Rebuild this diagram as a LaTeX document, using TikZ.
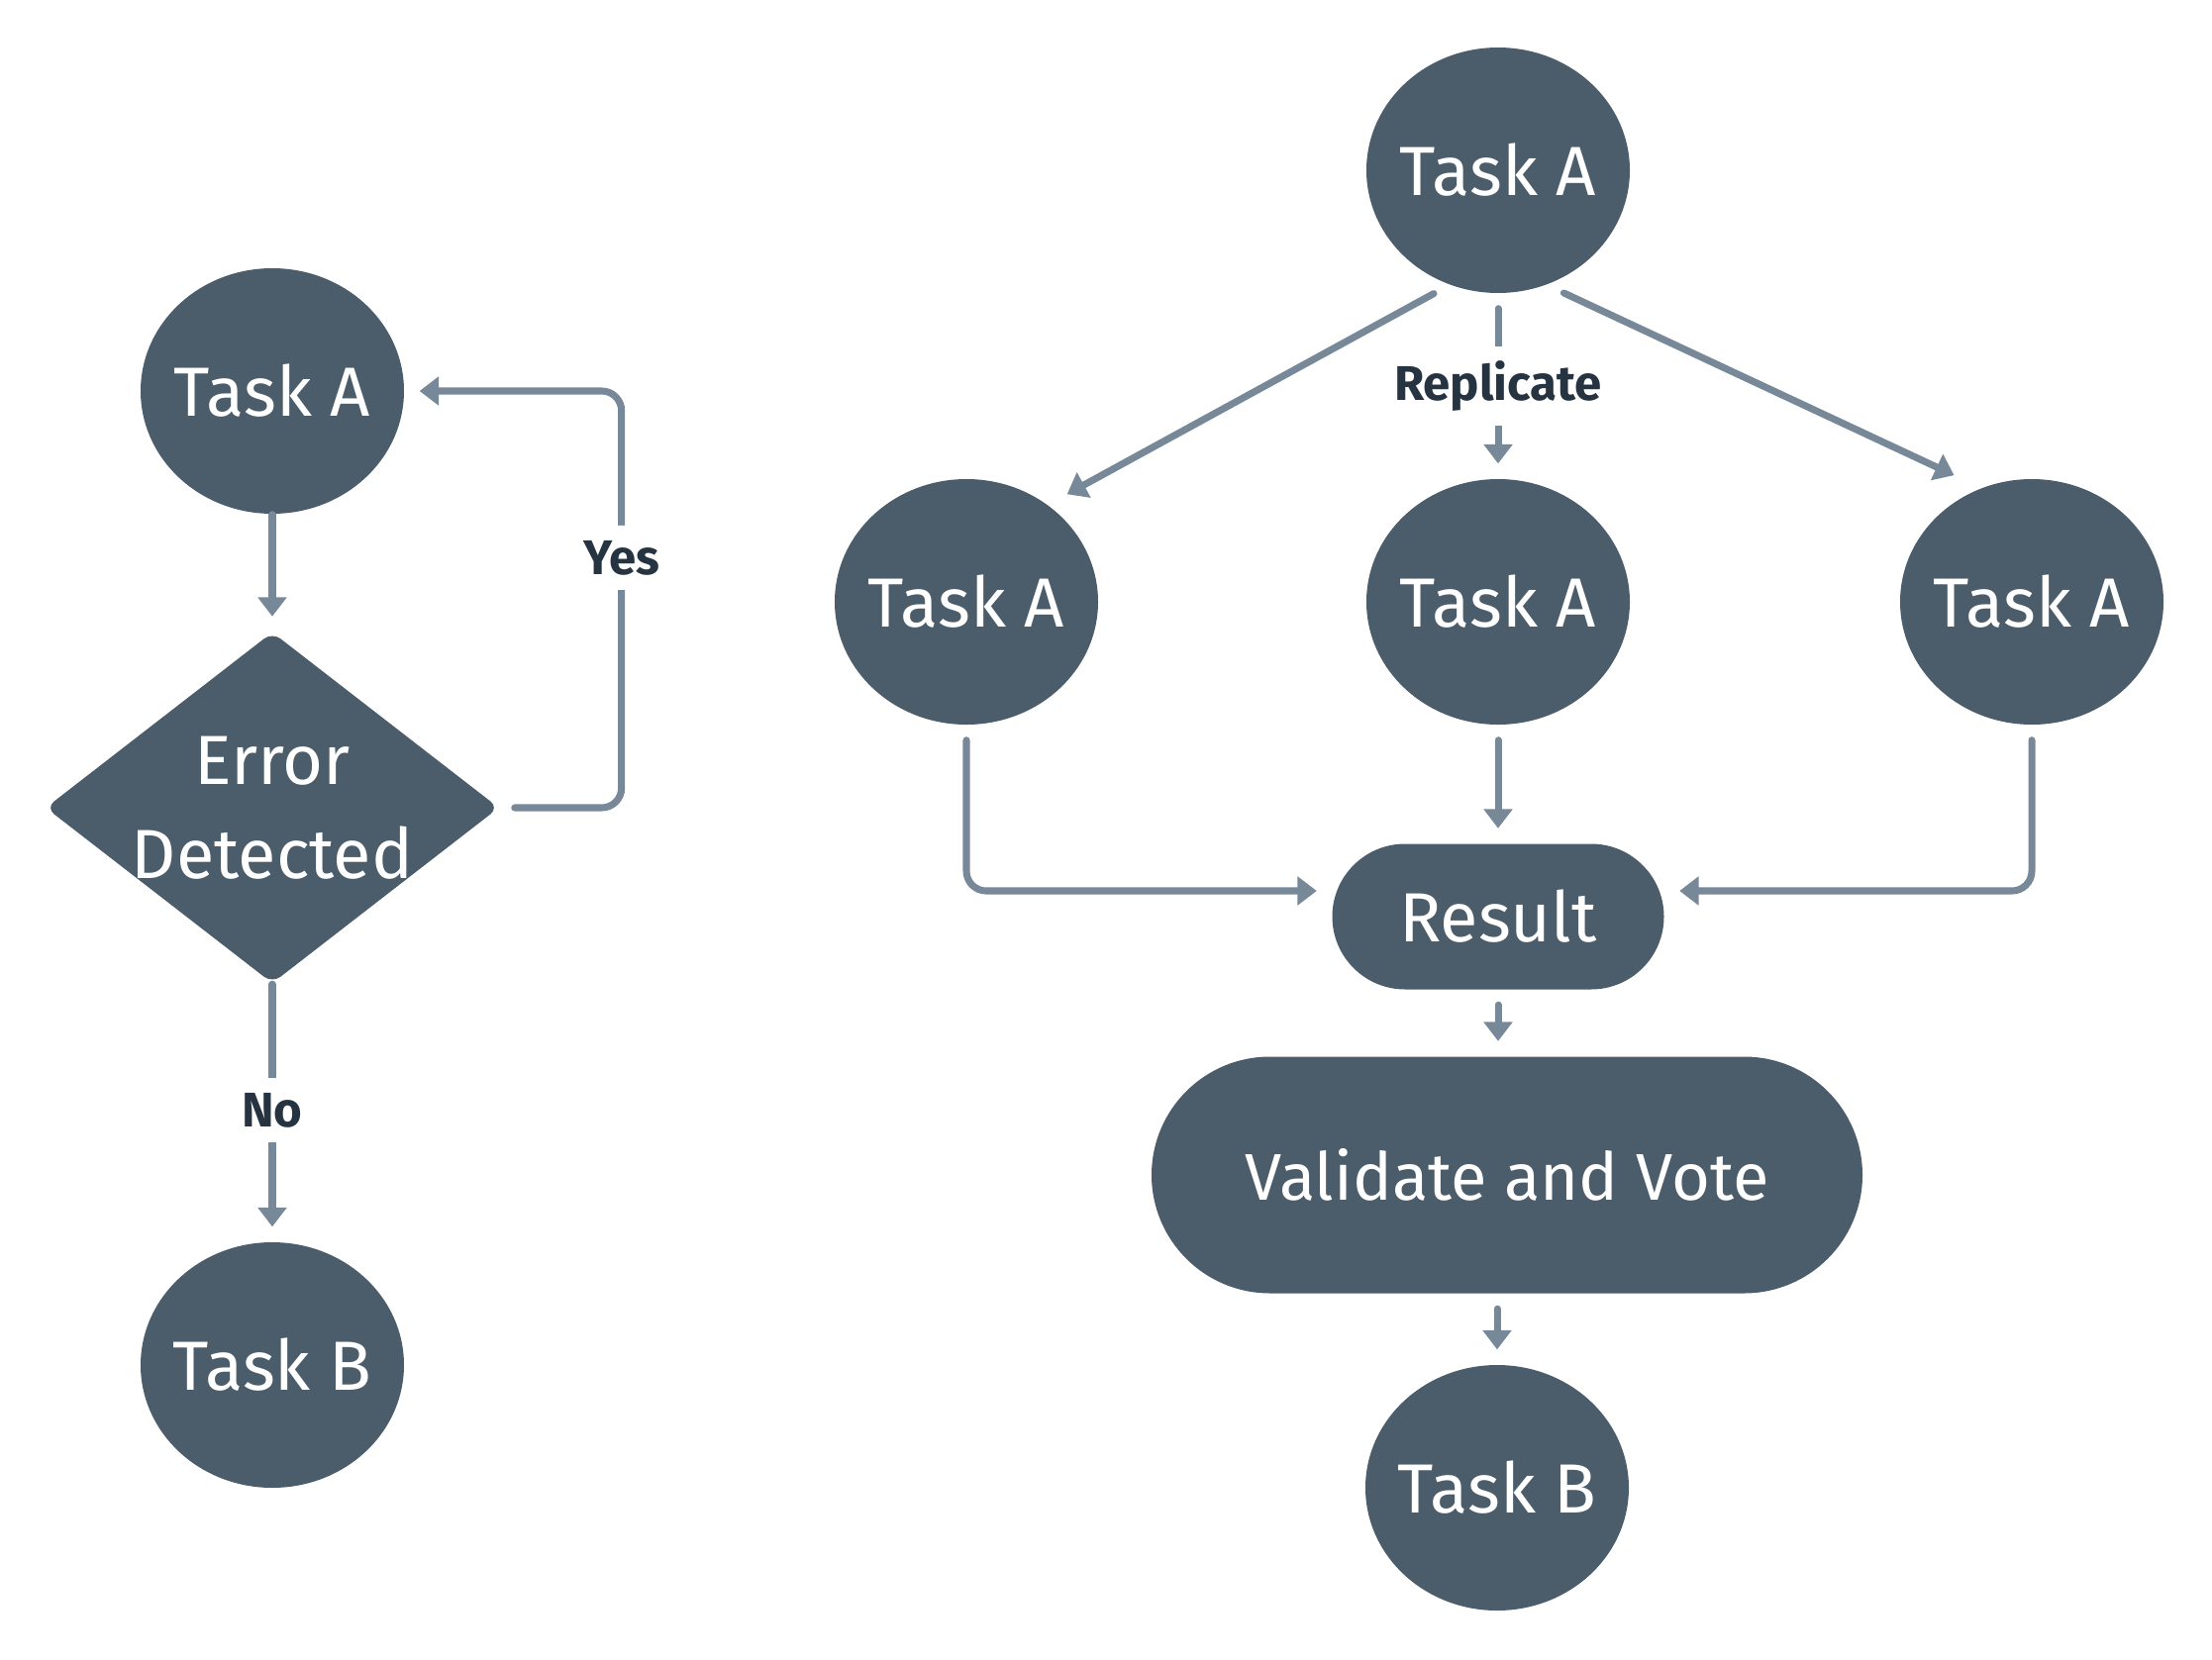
\documentclass[tikz,border=0pt]{standalone}
\usepackage{fontspec}
\setmainfont{Fira Sans}
\usetikzlibrary{shapes.geometric, arrows.meta}
\definecolor{nodefill}{HTML}{4B5C6B}
\definecolor{linegray}{HTML}{778899}
\definecolor{labeltext}{HTML}{263442}

\begin{document}
\begin{tikzpicture}[
		task/.style={ellipse, fill=nodefill, text=white, minimum width=2.66cm, minimum height=2.48cm, inner xsep=-0.4cm, inner ysep=0pt, font=\fontsize{20}{27}\selectfont},
		pill/.style={rectangle, rounded corners=#1, fill=nodefill, text=white, font=\fontsize{20}{27}\selectfont},
		decision/.style={diamond, rounded corners=3pt, fill=nodefill, text=white, align=center, minimum width=4.58cm, minimum height=3.55cm, inner sep=-0.8cm, font=\fontsize{20}{27}\selectfont},
		conn/.style={linegray, line width=2pt, line cap=round, -{Triangle[width=8pt, length=5.5pt]}, shorten <=0.15cm, shorten >=0.15cm},
		lbl/.style={fill=white, text=labeltext, inner sep=0.15cm, font=\fontsize{14}{16}\selectfont\bfseries}
	]
		\useasboundingbox (0, 0) rectangle (22.34, -16.77);
		
		% Retry
		\node[task] (retryA) at (2.75, -3.95) {Task A};
		\node[decision] (check) at (2.75, -8.16) {Error\\Detected};
		\node[task] (retryB) at (2.75, -13.79) {Task B};
		
		\draw[conn, shorten <=0pt] (retryA) -- (check);
		\draw[conn, rounded corners=0.2cm] (check.east) -- ++(1.23, 0) |- (retryA.east) node[lbl, pos=0.3] {Yes};
		\draw[conn, shorten <=0pt] (check) -- (retryB) node[lbl, pos=0.49] {No};
		
		% Replication
		\node[task] (srcA) at (15.13, -1.72) {Task A};
		\node[task] (copyL) at (9.76, -6.08) {Task A};
		\node[task] (copyM) at (15.13, -6.08) {Task A};
		\node[task] (copyR) at (20.52, -6.08) {Task A};
		\node[pill=0.735cm, minimum width=3.35cm, minimum height=1.47cm] (result) at (15.13, -9.26) {Result};
		\node[pill=1.195cm, minimum width=7.18cm, minimum height=2.39cm, font=\fontsize{19}{25}\selectfont] (vote) at (15.22, -11.87) {Validate and Vote};
		\node[task] (finalB) at (15.12, -15.03) {Task B};
		
		\draw[conn, shorten <=0.18cm, shorten >=0.22cm] (srcA.-113) -- (copyL.50);
		\draw[conn] (srcA) -- (copyM) node[lbl, midway] {Replicate};
		\draw[conn, shorten <=0.19cm, shorten >=0.3cm] (srcA.-67) -- (copyR.114);
		
		% Merge
		\draw[conn, rounded corners=0.2cm] (copyL) |- ([yshift=0.26cm]result.west);
		\draw[conn] (copyM) -- (result);
		\draw[conn, rounded corners=0.2cm] (copyR) |- ([yshift=0.26cm]result.east);
		\draw[conn] (result) -- (result.south |- vote.north);
		\draw[conn] (vote.south -| finalB.north) -- (finalB);
	\end{tikzpicture}
\end{document}
